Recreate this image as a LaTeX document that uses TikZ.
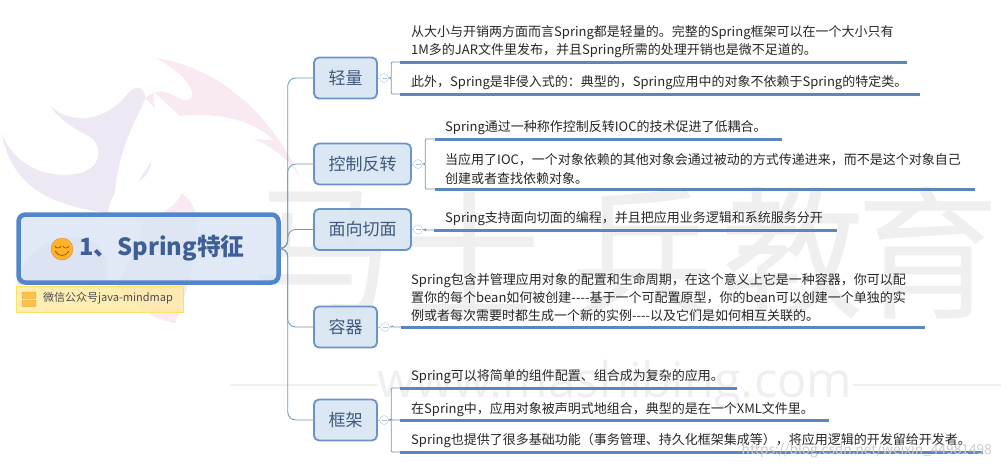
\documentclass[tikz,border=0pt]{standalone}
\usepackage{fontspec}
\setmainfont{Noto Sans CJK SC}
\newfontfamily\wmfont{Open Sans}
\definecolor{linkblue}{HTML}{7096B6}
\definecolor{barblue}{HTML}{5B88BC}
\definecolor{boxblue}{HTML}{6A94C6}
\definecolor{rootblue}{HTML}{5385CB}
\definecolor{boxfill}{HTML}{D8E4F3}
\definecolor{rootink}{HTML}{3D5F96}
\definecolor{boxink}{HTML}{3F5A7C}
\definecolor{markgray}{HTML}{EFEFEF}
\definecolor{pinkmark}{HTML}{F9E9F3}
\definecolor{lilacmark}{HTML}{EEE7F4}
\tikzset{
    root/.style={draw=rootblue,line width=4.5pt,fill=boxfill,fill opacity=.8,text opacity=1,rounded corners=7pt,
        minimum width=260pt,minimum height=68pt,text=rootink,font=\fontsize{23.7}{26}\selectfont\bfseries},
    branch/.style={draw=boxblue,line width=1.8pt,fill=boxfill,fill opacity=.9,text opacity=1,rounded corners=5pt,
        minimum height=41pt,inner sep=0pt,text=boxink,font=\fontsize{17}{20}\selectfont},
    fold/.style={circle,draw=linkblue!55,fill=white,minimum size=9pt,inner sep=0pt,
        path picture={\draw[linkblue!55] ([xshift=2pt]path picture bounding box.west) -- ([xshift=-2pt]path picture bounding box.east);}},
    body/.style={anchor=west,align=left,inner sep=0pt,yshift=-1.5pt,text=black!85,font=\fontsize{13}{18.3}\selectfont},
    conn/.style={draw=linkblue,line width=.8pt,rounded corners=4pt},
    bar/.style={draw=barblue,line width=3pt},
    wmark/.style={text=markgray,inner sep=0pt,font=\fontsize{143}{150}\selectfont}
}
\begin{document}
\begin{tikzpicture}[x=1pt,y=-1pt]
    \useasboundingbox (0,0) rectangle (1001,469);
    %% logo
    \begin{scope}[shift={(0,40)},scale=1/3]
        \fill[pinkmark] (470,55) .. controls (640,80) and (800,200) .. (900,410)
            .. controls (860,350) and (800,310) .. (760,297) -- (820,300)
            .. controls (760,240) and (650,215) .. (540,228) -- (460,155) -- (465,205) -- (437,175)
            .. controls (480,130) and (520,170) .. (550,180) .. controls (590,190) and (600,130) .. (470,55);
        \fill[lilacmark] (150,197) .. controls (220,260) and (320,240) .. (380,165)
            .. controls (400,140) and (430,130) .. (437,175)
            .. controls (400,250) and (350,350) .. (345,460)
            .. controls (325,490) and (325,510) .. (325,520)
            .. controls (200,500) and (40,470) .. (5,280)
            .. controls (40,370) and (130,420) .. (240,400)
            .. controls (310,380) and (310,310) .. (260,285)
            .. controls (210,260) and (170,230) .. (150,197);
        \fill[lilacmark] (455,362) -- (415,425) .. controls (440,410) and (450,390) .. (455,362);
        \fill[pinkmark] (545,460) .. controls (600,490) and (620,600) .. (525,850)
            .. controls (440,830) and (380,790) .. (350,735) .. controls (380,690) and (420,600) .. (430,540)
            .. controls (470,530) and (520,510) .. (545,460);
        \fill[lilacmark] (50,720) .. controls (80,620) and (180,570) .. (270,600)
            .. controls (320,620) and (330,680) .. (310,735) -- (50,735) -- cycle;
    \end{scope}
    %% watermark
    \foreach \x/\ch in {322/马,470/士,642/兵,793/教,928/育}
        \node[wmark] (wm\x) at (\x,253) {\ch};
    \draw[markgray,line width=1.5pt] (230,385) -- (378,385);
    \draw[markgray,line width=1.5pt] (853,385) -- (1001,385);
    \node[inner sep=0pt,text=markgray,font=\fontsize{49}{50}\wmfont] (site) at (615,385) {www.mashibing.com};
    %% root and note
    \node[root] (spring) at (148.5,248.5) {\hspace*{27pt}1、Spring特征};
    \node[circle,draw=black!25!orange!70,fill=orange!70!yellow!85,minimum size=22pt,inner sep=0pt] (smile) at (62,249) {};
    \draw[orange!60!black,line width=.7pt] (55,246) arc (180:360:3pt and 2pt);
    \draw[orange!60!black,line width=.7pt] (63,246) arc (180:360:3pt and 2pt);
    \draw[orange!60!black,line width=.7pt] (55,251) .. controls (58,257) and (66,257) .. (69,251);
    \node[draw=yellow!70!orange!60,fill=yellow!60!orange!35,fill opacity=.8,text opacity=1,anchor=north west,minimum width=167pt,minimum height=26pt,inner sep=0pt] (note) at (16,286) {};
    \foreach \y in {292,300}
        \draw[orange!70!black!60,fill=orange!65!yellow!75,rounded corners=1pt] (22,\y) rectangle (36,\y+6.5);
    \node[anchor=west,inner sep=0pt,text=black!70,font=\fontsize{11}{13}\selectfont] (notetext) at (43,298.5) {微信公众号java-mindmap};
    %% branches
    \node[branch,minimum width=63pt] (light) at (345.5,78) {轻量};
    \node[branch,minimum width=97pt] (ioc) at (362.5,164) {控制反转};
    \node[branch,minimum width=97pt] (aop) at (362.5,229.5) {面向切面};
    \node[branch,minimum width=63pt] (box) at (345.5,327) {容器};
    \node[branch,minimum width=63pt] (frame) at (345.5,420) {框架};
    \foreach \b in {light,ioc,aop,box,frame}
        \draw[conn,rounded corners=8pt] (spring.east) -- ++(7,0) |- (\b.west);
    %% fold marks
    \foreach \b/\x in {light/384,ioc/418,aop/418,box/385,frame/384} {
        \node[fold] (f\b) at (\x,0 |- \b.east) {};
        \draw[linkblue!55] (\b.east) -- (f\b.west);
    }
    %% underlines
    \foreach \t/\xa/\xb/\yy in {la/400/907/62,lb/400/920/94,ia/435/782/139,ib/435/975/189,
        ma/434/837/230,ba/401/925/327,fa/400/737/388,fb/400/829/420,fc/400/983/452} {
        \coordinate (\t0) at (\xa,\yy);
        \coordinate (\t1) at (\xb,\yy);
        \draw[bar] (\t0) -- (\t1);
    }
    %% brackets
    \foreach \f/\t in {flight/la,flight/lb,fioc/ia,fioc/ib,faop/ma,fbox/ba,fframe/fa,fframe/fb,fframe/fc}
        \draw[conn,rounded corners=1pt] (\f.east) -- ++(2.5,0) |- (\t0);
    %% texts
    \foreach \t/\x/\y/\txt in {
        tla/411/40/{从大小与开销两方面而言Spring都是轻量的。完整的Spring框架可以在一个大小只有\\1M多的JAR文件里发布，并且Spring所需的处理开销也是微不足道的。},
        tlb/411/81/{此外，Spring是非侵入式的：典型的，Spring应用中的对象不依赖于Spring的特定类。},
        tia/445/126/{Spring通过一种称作控制反转IOC的技术促进了低耦合。},
        tib/445/167.5/{当应用了IOC，一个对象依赖的其他对象会通过被动的方式传递进来，而不是这个对象自己\\创建或者查找依赖对象。},
        tma/445/217/{Spring支持面向切面的编程，并且把应用业务逻辑和系统服务分开},
        tba/411/296/{Spring包含并管理应用对象的配置和生命周期，在这个意义上它是一种容器，你可以配\\置你的每个bean如何被创建{-}{-}{-}{-}基于一个可配置原型，你的bean可以创建一个单独的实\\例或者每次需要时都生成一个新的实例{-}{-}{-}{-}以及它们是如何相互关联的。},
        tfa/411/375/{Spring可以将简单的组件配置、组合成为复杂的应用。},
        tfb/411/408/{在Spring中，应用对象被声明式地组合，典型的是在一个XML文件里。},
        tfc/411/439/{Spring也提供了很多基础功能（事务管理、持久化框架集成等），将应用逻辑的开发留给开发者。}}
        \node[body] (\t) at (\x,\y) {\txt};
    \node[anchor=east,inner sep=0pt,text=black!20,font=\fontsize{13.7}{16}\selectfont] (csdn) at (992,451) {https://blog.csdn.net/weixin\_44981498};
\end{tikzpicture}
\end{document}
